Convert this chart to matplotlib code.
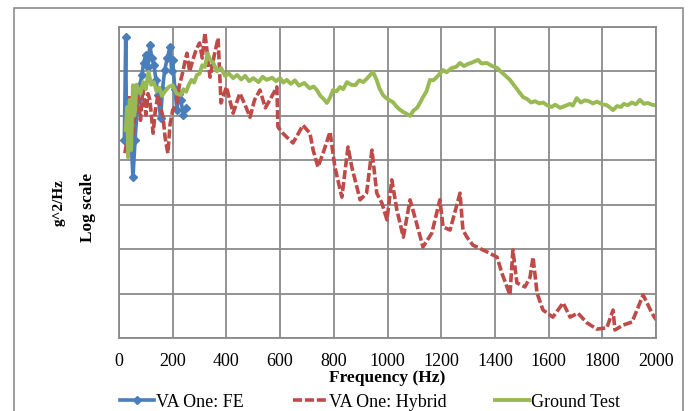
import numpy as np
import matplotlib
matplotlib.use("Agg")
import matplotlib.pyplot as plt
from matplotlib.patches import Rectangle

# log10 of g^2/Hz (arbitrary reference: bottom gridline = 10^0)
fe_freq = [20, 25, 28, 35, 42, 52, 60, 70, 78, 85, 92, 100, 108, 115, 122,
           130, 138, 145, 155, 162, 170, 180, 190, 196, 200, 208, 216, 223,
           230, 240, 250]
fe_log = [4.46, 6.78, 4.68, 5.36, 4.79, 3.62, 4.46, 5.36, 5.7, 5.92, 6.2,
          6.37, 6.1, 6.60, 6.3, 6.14, 5.8, 5.47, 4.95, 5.6, 6.03, 6.3, 6.55,
          6.0, 6.26, 5.6, 5.13, 5.5, 5.36, 5.02, 5.18]

hyb_freq = [22, 30, 40, 50, 60, 71, 80, 89, 100, 108, 115, 127, 135, 145,
            155, 164, 172, 182, 190, 200, 216, 225, 235, 245, 253, 263, 275,
            288, 300, 310, 320, 339, 355, 369, 380, 400, 425, 450,
            470, 488, 505, 525, 545, 562, 588, 592, 610, 625, 648, 665, 685,
            711, 723, 741, 760, 786, 804, 830, 853, 867, 898, 922, 942, 960,
            979, 998, 1016, 1035, 1059, 1084, 1102, 1132, 1165, 1195, 1207,
            1233, 1270, 1281, 1296, 1318, 1370, 1408, 1426, 1456, 1467, 1482,
            1512, 1531, 1542, 1557, 1579, 1616, 1654, 1680, 1709, 1743, 1780,
            1817, 1840, 1847, 1877, 1911, 1952, 1985, 2000]
hyb_log = [4.16, 4.46, 5.47, 4.46, 5.13, 5.42, 4.9, 5.65, 5.02, 5.5, 5.36,
           4.61, 5.1, 5.47, 5.2, 4.97, 4.5, 4.16, 4.8, 5.13, 5.29, 5.7, 5.92,
           6.2, 6.41, 6.0, 6.26, 6.5, 6.64, 6.3, 6.87, 5.87, 6.37,
           6.75, 5.29, 5.65, 5.06, 5.51, 5.24, 4.97, 5.36, 5.58, 5.18, 5.36,
           5.65, 4.75, 4.61, 4.52, 4.39, 4.57, 4.79, 4.61, 4.23, 3.85, 4.16,
           4.64, 3.85, 3.17, 4.30, 3.85, 3.11, 3.26, 4.23, 3.26, 3.04, 2.66,
           3.56, 2.88, 2.27, 3.11, 2.72, 2.05, 2.36, 3.11, 2.50, 2.43, 3.26,
           2.43, 2.27, 2.09, 1.94, 1.82, 1.46, 0.97, 1.98, 1.24, 1.15, 1.37,
           1.82, 1.01, 0.63, 0.47, 0.79, 0.47, 0.56, 0.34, 0.20, 0.23, 0.63,
           0.18, 0.29, 0.36, 0.97, 0.56, 0.41]

gt_freq = [25, 30, 34, 40, 45, 52, 56, 60, 65, 70, 80, 90, 100, 110, 120,
           130, 140, 150, 160, 170, 185, 200, 215, 230, 240, 250, 260, 270,
           280, 290, 300, 310, 320, 330, 340, 350, 365, 380, 395, 410, 425,
           440, 455, 470, 485, 500, 520, 535, 550, 570, 585, 600, 612, 625,
           640, 655, 670, 690, 710, 725, 737, 750, 762, 774, 785, 797, 810,
           823, 835, 849, 865, 880, 895, 910, 925, 946, 960, 970, 983, 995,
           1008, 1020, 1035, 1046, 1058, 1070, 1084, 1097, 1110, 1120, 1132,
           1145, 1158, 1170, 1180, 1195, 1207, 1220, 1240, 1255, 1270, 1285,
           1300, 1315, 1337, 1350, 1370, 1390, 1408, 1425, 1440, 1456, 1470,
           1485, 1505, 1520, 1535, 1550, 1565, 1580, 1594, 1610, 1625, 1643,
           1660, 1680, 1690, 1705, 1720, 1735, 1750, 1765, 1780, 1800, 1817,
           1830, 1840, 1855, 1870, 1880, 1895, 1910, 1925, 1940, 1955, 1970,
           1985, 1996]
gt_log = [4.68, 5.2, 4.07, 5.36, 4.23, 5.69, 5.0, 5.13, 5.7, 5.63, 5.5,
          5.76, 5.6, 5.99, 5.7, 5.76, 5.55, 5.63, 5.45, 5.54, 5.65, 5.69, 5.5,
          5.47, 5.6, 5.54, 5.7, 5.81, 5.75, 5.92, 5.95, 6.14, 6.1, 6.41, 6.25,
          6.21, 6.0, 6.08, 5.9, 5.95, 5.85, 5.92, 5.82, 5.90, 5.78, 5.85,
          5.76, 5.88, 5.81, 5.86, 5.78, 5.85, 5.75, 5.81, 5.72, 5.80, 5.68,
          5.74, 5.62, 5.66, 5.58, 5.45, 5.38, 5.29, 5.40, 5.58, 5.55, 5.65,
          5.60, 5.76, 5.70, 5.69, 5.80, 5.76, 5.85, 5.99, 5.80, 5.62, 5.47,
          5.40, 5.35, 5.31, 5.20, 5.14, 5.09, 5.05, 5.00, 5.12, 5.18, 5.28,
          5.42, 5.55, 5.81, 5.80, 5.85, 5.95, 6.03, 5.98, 6.08, 6.10, 6.19,
          6.12, 6.17, 6.20, 6.26, 6.18, 6.19, 6.12, 6.08, 5.98, 5.90, 5.81,
          5.70, 5.58, 5.42, 5.38, 5.30, 5.33, 5.28, 5.30, 5.24, 5.20, 5.25,
          5.18, 5.22, 5.27, 5.23, 5.40, 5.30, 5.35, 5.33, 5.28, 5.32, 5.26,
          5.24, 5.18, 5.13, 5.22, 5.20, 5.27, 5.24, 5.30, 5.26, 5.36, 5.27,
          5.29, 5.25, 5.24]

x_ticks = [0, 200, 400, 600, 800, 1000, 1200, 1400, 1600, 1800, 2000]

plt.rcParams['font.family'] = ['Liberation Serif', 'DejaVu Serif']

fig = plt.figure(figsize=(6.88, 4.11), dpi=100)
ax = fig.add_axes([119/688, 1 - 338/411, (656 - 119)/688, (338 - 27)/411])

fig.patches.append(Rectangle((14/688, -0.05), (683 - 14)/688, 1 - 8/411 + 0.05,
                             transform=fig.transFigure, fill=False,
                             edgecolor='#8c8c8c', linewidth=1.2))

ax.plot(fe_freq, 10 ** np.array(fe_log), color='#4A7EBB', lw=2.6,
        marker='D', markersize=4.5, label='VA One: FE')
ax.plot(hyb_freq, 10 ** np.array(hyb_log), color='#BE4B48', lw=2.6,
        linestyle=(0, (2.5, 0.8)), label='VA One: Hybrid')
ax.plot(gt_freq, 10 ** np.array(gt_log), color='#98B954', lw=2.8,
        label='Ground Test')

ax.set_yscale('log')
ax.set_ylim(1, 1e7)
ax.set_xlim(0, 2000)
ax.set_xticks(x_ticks)
ax.set_xticklabels([str(t) for t in x_ticks], fontsize=13)
ax.set_yticks([10 ** k for k in range(8)])
ax.yaxis.set_minor_locator(matplotlib.ticker.NullLocator())
ax.set_yticklabels([])
ax.tick_params(length=0, pad=11)
ax.grid(True, color='#8a8a8a', linewidth=1.3)
for s in ax.spines.values():
    s.set_color('#8a8a8a')
    s.set_linewidth(1.3)

ax.set_xlabel('Frequency (Hz)', fontsize=12.5, fontweight='bold', labelpad=0)
fig.text(59/688, 1 - 203/411, 'g^2/Hz', rotation=90, ha='center', va='center',
         fontsize=11, fontweight='bold')
fig.text(88/688, 1 - 207/411, 'Log scale', rotation=90, ha='center',
         va='center', fontsize=12.5, fontweight='bold')

fig.legend(loc='center left', bbox_to_anchor=(120/688, 1 - 402/411), ncol=3,
           frameon=False, fontsize=13, handlelength=1.9, columnspacing=2.7,
           handletextpad=0.1, borderpad=0, borderaxespad=0)

fig.savefig('out.png', dpi=100)
